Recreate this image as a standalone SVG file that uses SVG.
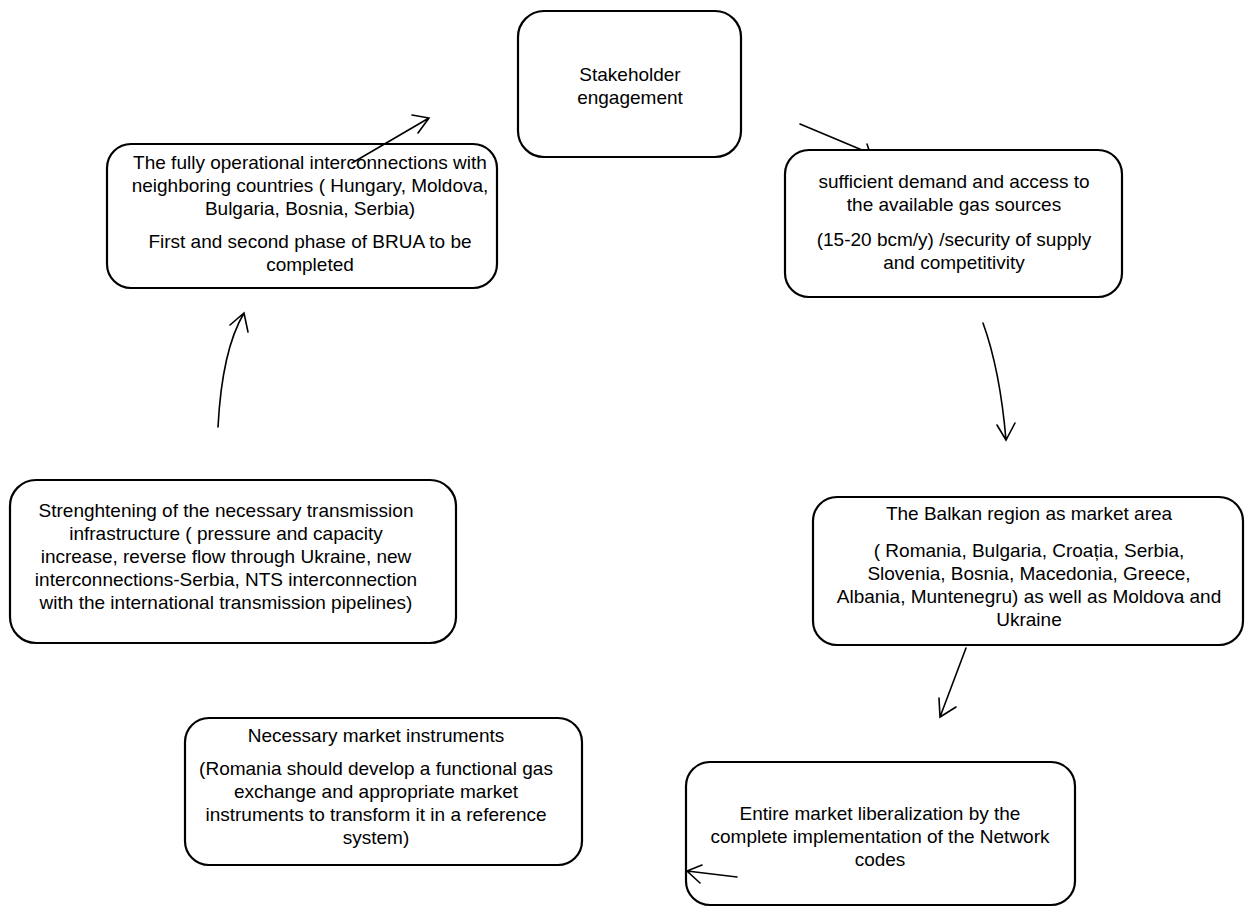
<svg xmlns="http://www.w3.org/2000/svg" width="1246" height="907" viewBox="0 0 1246 907">
<style>
.box{fill:#fff;stroke:#000;stroke-width:2.2}
.t{font-family:"Liberation Sans",Arial,sans-serif;font-size:19px;fill:#000;text-anchor:middle}
.c{fill:none;stroke:#000;stroke-width:1.6;stroke-linecap:round}
</style>
<rect width="1246" height="907" fill="#fff"/>
<g id="stakeholder">
<rect class="box" x="518" y="11" width="223" height="146" rx="26"/>
<text class="t" x="630" y="81">Stakeholder</text>
<text class="t" x="630" y="104">engagement</text>
</g>
<g id="interconnections">
<rect class="box" x="107" y="144" width="390" height="144" rx="24"/>
<text class="t" x="310" y="169">The fully operational interconnections with</text>
<text class="t" x="310" y="192">neighboring countries ( Hungary, Moldova,</text>
<text class="t" x="310" y="215">Bulgaria, Bosnia, Serbia)</text>
<text class="t" x="310" y="248">First and second phase of BRUA to be</text>
<text class="t" x="310" y="271">completed</text>
</g>
<g id="demand">
<rect class="box" x="785" y="150" width="337" height="147" rx="24"/>
<text class="t" x="954" y="188">sufficient demand and access to</text>
<text class="t" x="954" y="211">the available gas sources</text>
<text class="t" x="954" y="246">(15-20 bcm/y) /security of supply</text>
<text class="t" x="954" y="269">and competitivity</text>
</g>
<g id="balkan">
<rect class="box" x="813" y="497" width="430" height="148" rx="24"/>
<text class="t" x="1029" y="520">The Balkan region as market area</text>
<text class="t" x="1029" y="557">( Romania, Bulgaria, Croația, Serbia,</text>
<text class="t" x="1029" y="580">Slovenia, Bosnia, Macedonia, Greece,</text>
<text class="t" x="1029" y="603">Albania, Muntenegru) as well as Moldova and</text>
<text class="t" x="1029" y="626">Ukraine</text>
</g>
<g id="liberalization">
<rect class="box" x="686" y="762" width="389" height="143" rx="24"/>
<text class="t" x="880" y="820">Entire market liberalization by the</text>
<text class="t" x="880" y="843">complete implementation of the Network</text>
<text class="t" x="880" y="866">codes</text>
</g>
<g id="instruments">
<rect class="box" x="185" y="718" width="397" height="147" rx="24"/>
<text class="t" x="376" y="742">Necessary market instruments</text>
<text class="t" x="376" y="775">(Romania should develop a functional gas</text>
<text class="t" x="376" y="798">exchange  and appropriate market</text>
<text class="t" x="376" y="821">instruments to transform it in a reference</text>
<text class="t" x="376" y="844">system)</text>
</g>
<g id="transmission">
<rect class="box" x="10" y="480" width="446" height="163" rx="26"/>
<text class="t" x="226" y="517">Strenghtening of the necessary transmission</text>
<text class="t" x="226" y="540">infrastructure ( pressure and capacity</text>
<text class="t" x="226" y="563">increase, reverse flow through Ukraine, new</text>
<text class="t" x="226" y="586">interconnections-Serbia, NTS interconnection</text>
<text class="t" x="226" y="609">with the international transmission pipelines)</text>
</g>
<g id="connectors">
<path class="c" d="M800,124 L862,150 M867,144 L869,150"/>
<path class="c" d="M983,323 Q1000,370 1006,440 M997,425 L1006,440 L1015,423"/>
<path class="c" d="M966,648 L940,717 M939,698 L940,717 L956,707"/>
<path class="c" d="M737,877 L687,871 M702,865 L687,871 L700,883"/>
<path class="c" d="M218,427 Q222,350 244,313 M230,325 L244,313 L248,332"/>
<path class="c" d="M352,163 L429,118 M412,115 L429,118 L418,133"/>
</g>
</svg>
